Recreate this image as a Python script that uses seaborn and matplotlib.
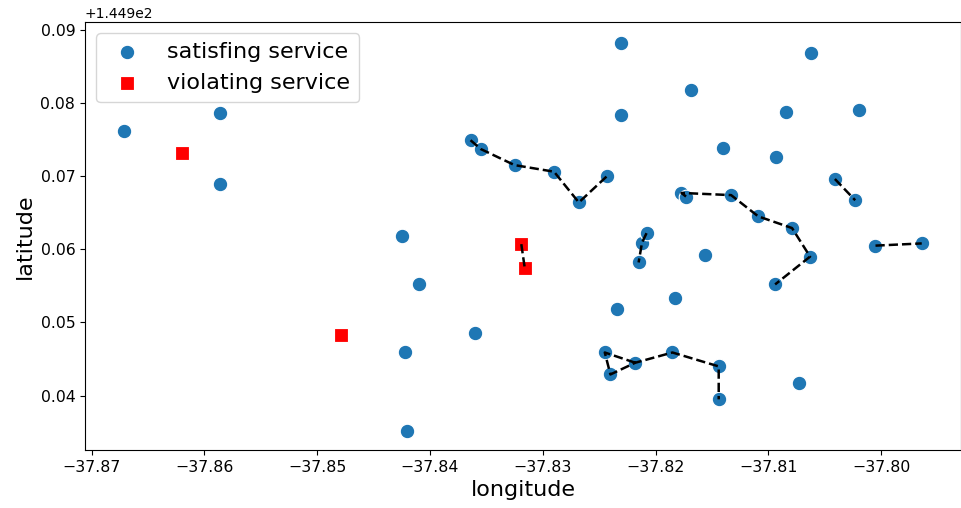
import matplotlib
matplotlib.use("Agg")
import matplotlib.pyplot as plt
import seaborn as sns
import pandas as pd
import numpy as np

# satisfying service points
sat_lon = [-37.8671, -37.8586, -37.8586, -37.8231, -37.8231, -37.8364, -37.8355,
           -37.8325, -37.8290, -37.8268, -37.8243, -37.8425, -37.8062, -37.8169,
           -37.8084, -37.8020, -37.8140, -37.8093, -37.8041, -37.8023, -37.8177,
           -37.8173, -37.8133, -37.8109, -37.8079, -37.8005, -37.7964, -37.8063,
           -37.8094, -37.8156, -37.8183, -37.8185, -37.8144, -37.8144, -37.8073,
           -37.8410, -37.8360, -37.8422, -37.8420, -37.8234, -37.8245, -37.8240,
           -37.8218, -37.8215, -37.8212, -37.8208]
sat_lat = [144.9762, 144.9786, 144.9689, 144.9882, 144.9784, 144.9749, 144.9737,
           144.9715, 144.9706, 144.9664, 144.9700, 144.9618, 144.9868, 144.9818,
           144.9788, 144.9790, 144.9738, 144.9726, 144.9696, 144.9667, 144.9677,
           144.9672, 144.9674, 144.9645, 144.9629, 144.9605, 144.9608, 144.9590,
           144.9552, 144.9592, 144.9534, 144.9459, 144.9440, 144.9395, 144.9418,
           144.9552, 144.9485, 144.9459, 144.9352, 144.9519, 144.9459, 144.9429,
           144.9445, 144.9582, 144.9609, 144.9622]

# violating service points
vio_lon = [-37.8620, -37.8479, -37.8319, -37.8316]
vio_lat = [144.9732, 144.9483, 144.9607, 144.9575]

# dashed routes
routes_lon = [
    [-37.8364, -37.8355, -37.8325, -37.8290, -37.8268, -37.8243],
    [-37.8208, -37.8212, -37.8215],
    [-37.8173, -37.8177, -37.8133, -37.8109, -37.8079, -37.8063, -37.8094],
    [-37.8041, -37.8023],
    [-37.8005, -37.7964],
    [-37.8218, -37.8245, -37.8240, -37.8218, -37.8185, -37.8144, -37.8144],
    [-37.8319, -37.8316],
]
routes_lat = [
    [144.9749, 144.9737, 144.9715, 144.9706, 144.9664, 144.9700],
    [144.9622, 144.9609, 144.9582],
    [144.9672, 144.9677, 144.9674, 144.9645, 144.9629, 144.9590, 144.9552],
    [144.9696, 144.9667],
    [144.9605, 144.9608],
    [144.9445, 144.9459, 144.9429, 144.9445, 144.9459, 144.9440, 144.9395],
    [144.9607, 144.9575],
]

plt.rcParams['font.family'] = ['DejaVu Sans']
fig = plt.figure(figsize=(9.62, 5.08), dpi=100)
ax = fig.add_axes([85/962, 1 - 450/508, (961 - 85)/962, (450 - 22)/508])

sat_df = pd.DataFrame({"longitude": sat_lon, "latitude": sat_lat})
vio_df = pd.DataFrame({"longitude": vio_lon, "latitude": vio_lat})

sns.scatterplot(data=sat_df, x="longitude", y="latitude", ax=ax, s=110,
                color="#1f77b4", marker="o", label="satisfing service", zorder=2)
sns.scatterplot(data=vio_df, x="longitude", y="latitude", ax=ax, s=110,
                color="red", marker="s", label="violating service", zorder=2)

for lo, la in zip(routes_lon, routes_lat):
    rdf = pd.DataFrame({"longitude": lo, "latitude": la})
    sns.lineplot(data=rdf, x="longitude", y="latitude", ax=ax, sort=False,
                 estimator=None, color="black", linestyle="--", linewidth=1.8,
                 legend=False, zorder=3)

ax.set_xlim(-37.87058, -37.79292)
ax.set_ylim(144.93258, 144.99105)
ax.set_xticks([-37.87, -37.86, -37.85, -37.84, -37.83, -37.82, -37.81, -37.80])
ax.tick_params(labelsize=11.3)
ax.set_xlabel("longitude", fontsize=16)
ax.set_ylabel("latitude", fontsize=16)
ax.legend(loc="upper left", fontsize=16)

fig.savefig("out.png", dpi=100)
